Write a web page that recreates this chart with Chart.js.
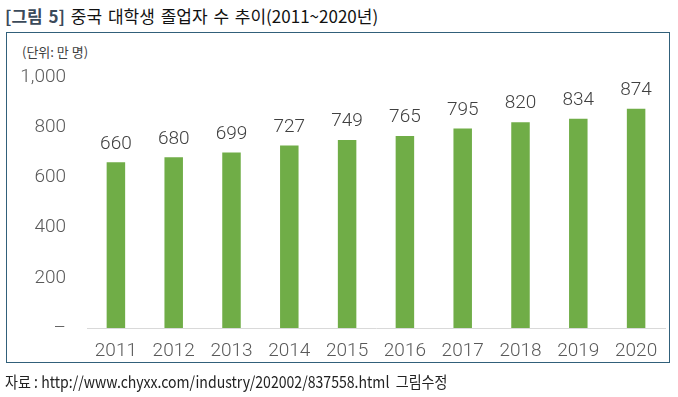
<!DOCTYPE html>
<html>
<head>
<meta charset="utf-8">
<script src="https://cdn.jsdelivr.net/npm/chart.js@4/dist/chart.umd.min.js"></script>
<style>
  html, body { margin: 0; padding: 0; background: #fff; }
  body { width: 678px; height: 397px; position: relative; overflow: hidden; font-family: "Noto Sans CJK KR", sans-serif; }
  #title { position: absolute; left: 5px; top: 4px; font-size: 17px; color: #111; white-space: nowrap; line-height: 24px; word-spacing: 2px; }
  #title b { color: #3b4a5a; }
  #frame { position: absolute; left: 6px; top: 32px; width: 662px; height: 329px; border: 1.5px solid #31607a; }
  #unit { position: absolute; left: 22px; top: 42px; font-size: 13px; color: #404040; white-space: nowrap; }
  #source { position: absolute; left: 5px; top: 369px; font-size: 16px; color: #222; white-space: nowrap; transform: scaleX(0.88); transform-origin: left top; }
  #wrap { position: absolute; left: 0; top: 0; width: 678px; height: 397px; }
</style>
</head>
<body>
<div id="frame"></div>
<div id="title"><b>[그림 5]</b> 중국 대학생 졸업자 수 추이(2011~2020년)</div>
<div id="unit">(단위: 만 명)</div>
<div id="wrap"><canvas id="chart" width="678" height="397"></canvas></div>
<div id="source">자료 : http://www.chyxx.com/industry/202002/837558.html &nbsp;그림수정</div>
<script>
const years = ['2011', '2012', '2013', '2014', '2015', '2016', '2017', '2018', '2019', '2020'];
const graduates = [660, 680, 699, 727, 749, 765, 795, 820, 834, 874];
const yTicks = [0, 200, 400, 600, 800, 1000];

const numFont = { family: 'Roboto', size: 19, weight: '300' };

// draws value above each bar
const valueLabels = {
  id: 'valueLabels',
  afterDatasetsDraw(chart) {
    const ctx = chart.ctx;
    const meta = chart.getDatasetMeta(0);
    ctx.save();
    ctx.font = '300 19px Roboto';
    ctx.fillStyle = '#404040';
    ctx.textAlign = 'center';
    ctx.textBaseline = 'bottom';
    meta.data.forEach((bar, i) => {
      ctx.fillText(graduates[i], bar.x, bar.y - 9);
    });
    ctx.restore();
  }
};

const ctx = document.getElementById('chart').getContext('2d');
const chart = new Chart(ctx, {
  type: 'bar',
  data: {
    labels: years,
    datasets: [{
      data: graduates,
      backgroundColor: '#70ad47',
      categoryPercentage: 1,
      barPercentage: 0.32
    }]
  },
  options: {
    responsive: false,
    animation: false,
    layout: { padding: { top: 77, right: 13, left: 0, bottom: 0 } },
    plugins: { legend: { display: false }, tooltip: { enabled: false } },
    scales: {
      x: {
        grid: { display: false, drawTicks: false },
        border: { color: '#d9d9d9', width: 1 },
        ticks: { color: '#595959', font: numFont, padding: 12, maxRotation: 0 },
        afterFit(scale) { scale.height = 69; }
      },
      y: {
        min: 0,
        max: 1000,
        afterBuildTicks(scale) { scale.ticks = yTicks.map(v => ({ value: v })); },
        grid: { display: false, drawTicks: false },
        border: { display: false },
        ticks: {
          color: '#595959',
          font: numFont,
          padding: 21,
          callback: v => v === 0 ? '–' : v.toLocaleString('en-US')
        },
        afterFit(scale) { scale.width = 87; }
      }
    }
  },
  plugins: [valueLabels]
});
</script>
</body>
</html>
